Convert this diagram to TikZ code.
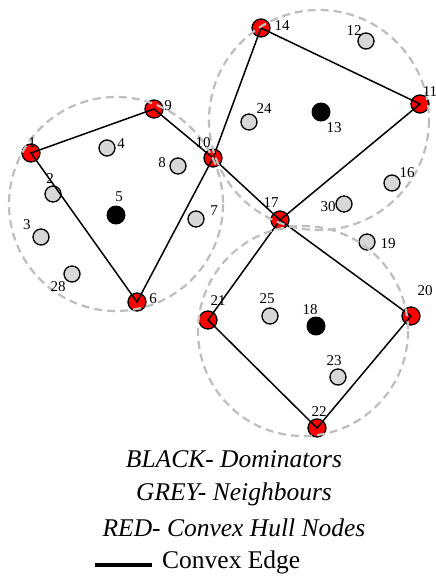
\documentclass[tikz,border=0pt]{standalone}
\usepackage{fontspec}
\setmainfont{Liberation Serif}
\definecolor{hullred}{RGB}{255,0,0}
\definecolor{nbgrey}{RGB}{215,215,215}
\definecolor{rangegrey}{RGB}{190,190,190}
\begin{document}
\begin{tikzpicture}[x=1pt,y=-1pt,
  hull/.style={circle,draw=black,line width=1.3pt,fill=hullred,minimum size=18pt,inner sep=0pt},
  nb/.style={circle,draw=black,line width=1.3pt,fill=nbgrey,minimum size=16pt,inner sep=0pt},
  dom/.style={circle,fill=black,minimum size=19pt,inner sep=0pt},
  lab/.style={font=\fontsize{15}{15}\selectfont,inner sep=0pt},
  hulledge/.style={draw=black,line width=1.5pt},
  rangecirc/.style={draw=rangegrey,line width=2.2pt,dash pattern=on 8pt off 5pt},
  legend/.style={font=\fontsize{25.5}{25.5}\selectfont\itshape,inner sep=0pt}]
\useasboundingbox (0,0) rectangle (436,576);
\fill[white] (0,0) rectangle (436,576);

% left cluster
\node[hull] (n1) at (31,153) {};
\node[hull] (n9) at (154,109) {};
\node[hull] (n10) at (213,158) {};
\node[hull] (n6) at (137,302) {};
\node[nb] (n4) at (107,148) {};
\node[nb] (n8) at (178,166) {};
\node[nb] (n2) at (53,194) {};
\node[nb] (n7) at (196,219) {};
\node[nb] (n3) at (41,237) {};
\node[nb] (n28) at (72,274) {};
\node[dom] (n5) at (116,215) {};

% upper right cluster
\node[hull] (n14) at (261,28) {};
\node[hull] (n11) at (420,104) {};
\node[hull] (n17) at (280,220) {};
\node[nb] (n12) at (366,41) {};
\node[nb] (n24) at (249,122) {};
\node[nb] (n16) at (392,183) {};
\node[nb] (n30) at (344,204) {};
\node[dom] (n13) at (321,112) {};

% lower cluster
\node[hull] (n21) at (208,320) {};
\node[hull] (n20) at (411,316) {};
\node[hull] (n22) at (317,428) {};
\node[nb] (n19) at (367,242) {};
\node[nb] (n25) at (270,316) {};
\node[nb] (n23) at (338,377) {};
\node[dom] (n18) at (316,326) {};

% convex edges
\draw[hulledge] (n1.center) -- (n9.center) -- (n10.center) -- (n6.center) -- cycle;
\draw[hulledge] (n10.center) -- (n14.center) -- (n11.center) -- (n17.center) -- cycle;
\draw[hulledge] (n17.center) -- (n20.center) -- (n22.center) -- (n21.center) -- cycle;

% dominator ranges
\draw[rangecirc] (116,204) circle (107);
\draw[rangecirc] (319,120) circle (110);
\draw[rangecirc] (303,331) circle (105);

% labels
\node[lab] at (32,143) {1};
\node[lab] at (50,179) {2};
\node[lab] at (27,225) {3};
\node[lab] at (121,144) {4};
\node[lab] at (119,197) {5};
\node[lab] at (153,299) {6};
\node[lab] at (214,211) {7};
\node[lab] at (162,163) {8};
\node[lab] at (168,106) {9};
\node[lab] at (203,143) {10};
\node[lab] at (430,92) {11};
\node[lab] at (354,31) {12};
\node[lab] at (334,128) {13};
\node[lab] at (282,26) {14};
\node[lab] at (407,173) {16};
\node[lab] at (271,203) {17};
\node[lab] at (310,310) {18};
\node[lab] at (388,244) {19};
\node[lab] at (425,291) {20};
\node[lab] at (218,301) {21};
\node[lab] at (319,412) {22};
\node[lab] at (334,361) {23};
\node[lab] at (264,109) {24};
\node[lab] at (267,299) {25};
\node[lab] at (58,287) {28};
\node[lab] at (328,207) {30};

% legend
\node[legend] (lg1) at (234,459) {BLACK- Dominators};
\node[legend] (lg2) at (234,494) {GREY- Neighbours};
\node[legend] (lg3) at (234,528) {RED- Convex Hull Nodes};
\node[inner sep=0pt,font=\fontsize{25.5}{25.5}\selectfont,anchor=west] (lg4) at (162,562) {Convex Edge};
\coordinate (ls) at (95,565);
\coordinate (le) at (152,565);
\draw[black,line width=3.5pt] (ls) -- (le);
\end{tikzpicture}
\end{document}
